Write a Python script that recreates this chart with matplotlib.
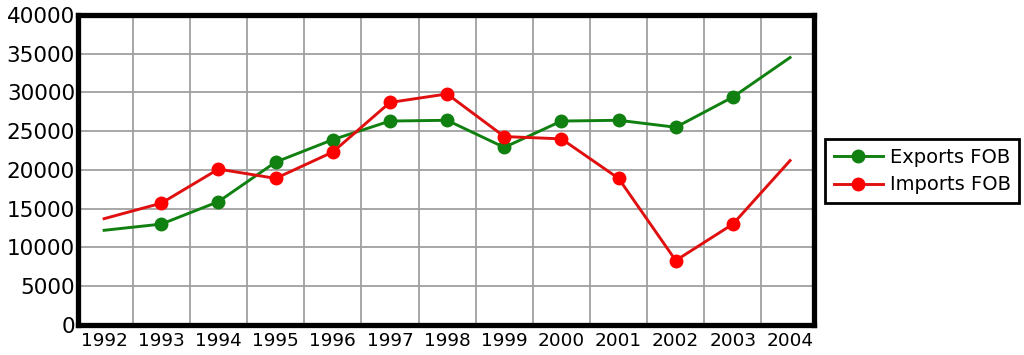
import matplotlib
matplotlib.use("Agg")
import matplotlib.pyplot as plt
import numpy as np

# data
years = ["1992", "1993", "1994", "1995", "1996", "1997", "1998",
         "1999", "2000", "2001", "2002", "2003", "2004"]
exports_fob = [12200, 13000, 15900, 21000, 23900, 26300, 26400,
               22900, 26300, 26400, 25500, 29400, 34500]
imports_fob = [13700, 15700, 20100, 18900, 22300, 28700, 29800,
               24300, 24000, 18900, 8300, 13000, 21200]
y_ticks = [0, 5000, 10000, 15000, 20000, 25000, 30000, 35000, 40000]

x = np.arange(len(years))
marked = list(range(1, len(years) - 1))  # no markers on the end points

fig = plt.figure(figsize=(10.24, 3.55), dpi=100)
ax = fig.add_axes([0.076, 0.085, 0.719, 0.873])

ax.plot(x, exports_fob, color="#108010", lw=2.1, marker="o", ms=9,
        markevery=marked, label="Exports FOB", zorder=3)
ax.plot(x, imports_fob, color="#e01010", lw=2.1, marker="o", ms=9,
        mfc="#ff0000", mec="#ff0000", markevery=marked,
        label="Imports FOB", zorder=3)

ax.set_xlim(-0.46, 12.42)
ax.set_ylim(0, 40000)

# grid lines sit between the years
ax.set_xticks(x)
ax.set_xticklabels(years, fontsize=13.3)
ax.set_xticks(x[:-1] + 0.5, minor=True)
ax.set_yticks(y_ticks)
ax.set_yticklabels([str(v) for v in y_ticks], fontsize=15.5)
ax.grid(False)
ax.xaxis.grid(True, which="minor", color="#a0a0a0", lw=1.3)
ax.yaxis.grid(True, which="major", color="#a0a0a0", lw=1.3)
ax.set_axisbelow(True)
ax.tick_params(axis="both", which="both", length=0)
ax.tick_params(axis="x", pad=5)
ax.tick_params(axis="y", pad=2)

for s in ax.spines.values():
    s.set_linewidth(3.8)
    s.set_color("black")

leg = ax.legend(loc="center left", bbox_to_anchor=(0.806, 0.518),
                bbox_transform=fig.transFigure, fontsize=14,
                frameon=True, fancybox=False, framealpha=1,
                handlelength=2.5, handletextpad=0.35, labelspacing=0.45,
                borderpad=0.45, borderaxespad=0)
leg.get_frame().set_edgecolor("black")
leg.get_frame().set_linewidth(2.0)

plt.savefig("out.png", dpi=100)
